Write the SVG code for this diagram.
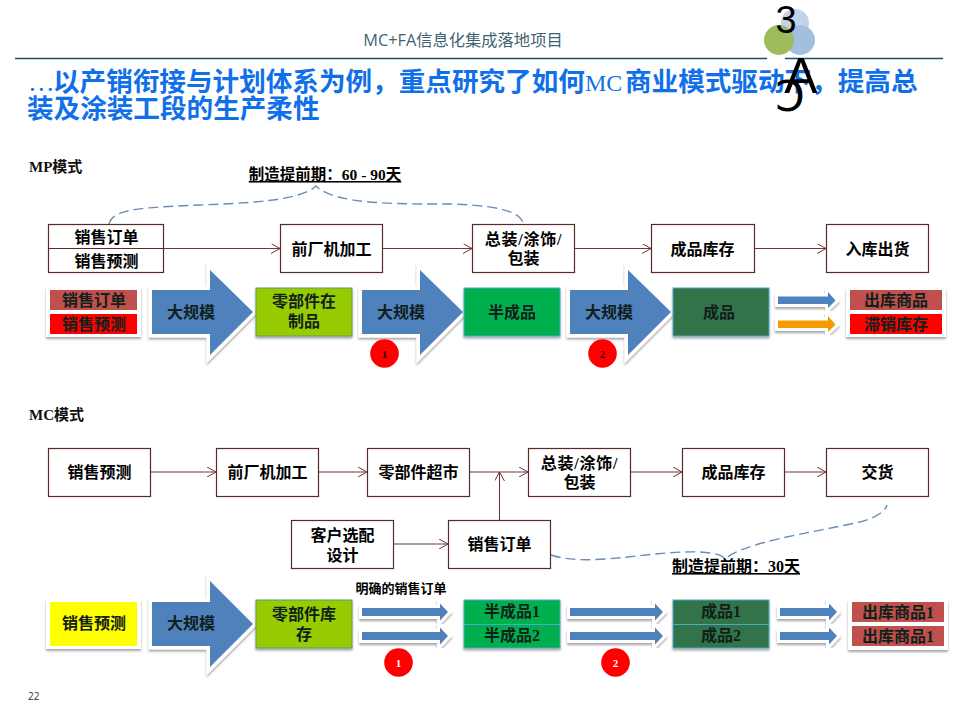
<svg xmlns="http://www.w3.org/2000/svg" width="960" height="720" viewBox="0 0 960 720">
<style>
text{font-family:"Liberation Serif","Noto Sans CJK SC",serif;}
.t{font-size:16px;text-anchor:middle;fill:#000;font-weight:700;}
.m{font-size:16px;text-anchor:middle;fill:#10201a;font-weight:700;}
.box{fill:#fff;stroke:#5a2a2a;stroke-width:1.2;}
.conn{stroke:#6b3a3a;stroke-width:1.1;fill:none;marker-end:url(#a);}
.dash{stroke:#6a8db5;stroke-width:1.4;fill:none;stroke-dasharray:10 5;}
.blue{fill:#4f81bd;stroke:#fff;stroke-width:7;filter:url(#sh);paint-order:stroke;}
.or{fill:#f79a00;stroke:#fff;stroke-width:7;filter:url(#sh);paint-order:stroke;}
.sm{stroke-width:6;}
.panel{fill:#fff;filter:url(#sh);}
.u{font-weight:700;text-anchor:middle;text-decoration:underline;fill:#000;}
.n{font-size:11px;font-weight:700;text-anchor:middle;}
.ti{font-family:"Noto Sans CJK SC",sans-serif;font-size:26.6px;font-weight:700;fill:#1070ea;}
.tl{font-family:"Liberation Serif",serif;font-weight:400;}
</style>
<defs>
<marker id="a" markerWidth="10" markerHeight="10" refX="9" refY="5" orient="auto" markerUnits="userSpaceOnUse"><path d="M0 0L9 5L0 10" fill="none" stroke="#6b3a3a" stroke-width="1"/></marker>
<filter id="sh" x="-10%" y="-10%" width="120%" height="125%"><feDropShadow dx="0" dy="2" stdDeviation="1.2" flood-color="#000" flood-opacity="0.35"/></filter>
</defs>
<rect width="960" height="720" fill="#fff"/>

<g id="logo">
<circle cx="795" cy="23" r="14" fill="#b8cce4" opacity="0.85"/>
<circle cx="800" cy="40" r="15" fill="#a3bfdf"/>
<circle cx="779" cy="40" r="15" fill="#9fbb5d"/>
<text x="786" y="33" text-anchor="middle" style="font-family:'Liberation Sans',sans-serif;font-size:38px;fill:#000">3</text>
</g>

<g id="header">
<text x="463" y="46" text-anchor="middle" style="font-family:'Open Sans','Noto Sans CJK SC',sans-serif;font-size:16.300px;fill:#3f6372">MC+FA信息化集成落地项目</text>
<path d="M15 58.500H767M785 58.500H943" stroke="#1f4e5f" stroke-width="1.300" fill="none"/>
<text class="ti" y="91"><tspan x="28" class="tl">…</tspan><tspan x="53">以产销衔接与计划体系为例，重点研究了如何</tspan><tspan x="585" class="tl" style="font-size:24px">MC</tspan><tspan x="625">商业模式驱动下，提高总</tspan></text>
<text class="ti" x="27" y="118">装及涂装工段的生产柔性</text>
</g>

<g id="logo-marks">
<text x="801" y="93" text-anchor="middle" style="font-family:'Liberation Sans',sans-serif;font-size:50px;fill:#000">A</text>
<text x="790" y="111" text-anchor="middle" style="font-family:'DejaVu Sans',sans-serif;font-size:42px;fill:#000">Ɔ</text>
</g>

<text x="29" y="172" style="font-size:15px;font-weight:700;fill:#111">MP模式</text>
<text x="29" y="420" style="font-size:15px;font-weight:700;fill:#111">MC模式</text>
<text x="325" y="180" class="u" style="font-size:15.500px">制造提前期：60 - 90天</text>
<text x="736" y="572" class="u" style="font-size:16px">制造提前期：30天</text>

<g id="connectors">
<path class="conn" d="M163 248.500H280"/>
<path class="conn" d="M382 248.500H472"/>
<path class="conn" d="M575 248.500H651"/>
<path class="conn" d="M755 248.500H826"/>
<path class="conn" d="M150 472H216"/>
<path class="conn" d="M318 472H367"/>
<path class="conn" d="M469 472H528"/>
<path class="conn" d="M499.500 520V472"/>
<path class="conn" d="M393 544H448"/>
<path class="conn" d="M630 472H682"/>
<path class="conn" d="M784 472H826"/>
<path class="dash" d="M109 224C112 212 130 209 160 207C220 203 295 205 316 186C335 205 400 204 450 204C490 205 520 210 523 223"/>
<path class="dash" d="M551 555C590 568 650 550 700 552C715 553 722 555 725 559C745 542 810 533 860 522C875 518 885 512 887 505"/>
</g>

<g id="mp-top" transform="translate(0.500 0.500)">
<g id="n-order-forecast"><rect class="box" x="48" y="224" width="115" height="48"/><path d="M48 248H163" stroke="#5a2a2a" stroke-width="1.200"/><text class="t" x="106" y="242">销售订单</text><text class="t" x="106" y="266">销售预测</text></g>
<g id="n-front"><rect class="box" x="280" y="224" width="102" height="48"/><text class="t" x="331" y="254">前厂机加工</text></g>
<g id="n-assy"><rect class="box" x="472" y="224" width="102" height="48"/><text class="t" x="523" y="244" style="letter-spacing:0.800px">总装/涂饰/</text><text class="t" x="523" y="263">包装</text></g>
<g id="n-stock"><rect class="box" x="651" y="224" width="103" height="48"/><text class="t" x="702" y="254">成品库存</text></g>
<g id="n-ship"><rect class="box" x="826" y="224" width="102" height="48"/><text class="t" x="877" y="254">入库出货</text></g>
</g>

<g id="mp-flow">
<g id="f-demand"><rect class="panel" x="46" y="287" width="95" height="50"/><rect x="50" y="290" width="87" height="20" fill="#c0504d"/><rect x="50" y="314" width="87" height="20" fill="#ff0000"/><text class="m" x="94" y="306">销售订单</text><text class="m" x="94" y="330">销售预测</text></g>
<g id="f-a1"><path class="blue" d="M152 290H210V270L253 312L210 355V334H152Z"/><text class="m" x="191" y="318">大规模</text></g>
<g id="f-parts"><rect x="256" y="288" width="96" height="48" fill="#99cc00" stroke="#5b9a6a" filter="url(#sh)"/><text class="m" x="304" y="307">零部件在</text><text class="m" x="304" y="327">制品</text></g>
<g id="f-a2"><path class="blue" d="M362 290H420V270L463 312L420 355V334H362Z"/><text class="m" x="401" y="318">大规模</text></g>
<g id="f-semi"><rect x="464" y="288" width="96" height="48" fill="#00b050" stroke="#4bacc6" filter="url(#sh)"/><text class="m" x="512" y="318">半成品</text></g>
<g id="f-a3"><path class="blue" d="M570 290H628V270L671 312L628 355V334H570Z"/><text class="m" x="609" y="318">大规模</text></g>
<g id="f-fin"><rect x="673" y="288" width="96" height="48" fill="#33734a" stroke="#4bacc6" filter="url(#sh)"/><text class="m" x="719" y="318">成品</text></g>
<g id="f-split"><path class="blue sm" d="M778 296.500H828V292L835.500 300.500L828 308V304H778Z"/><path class="or sm" d="M778 320.500H828V316L835.500 324.500L828 332V328H778Z"/></g>
<g id="f-out"><rect class="panel" x="846" y="288" width="100" height="49"/><rect x="850" y="290" width="92" height="20" fill="#c0504d"/><rect x="850" y="314" width="92" height="20" fill="#ff0000"/><text class="m" x="896" y="306">出库商品</text><text class="m" x="896" y="330">滞销库存</text></g>
<g id="c1"><circle cx="384.500" cy="353.500" r="14.300" fill="#ff0000"/><text class="n" x="384.500" y="357.500" style="fill:#400">1</text></g>
<g id="c2"><circle cx="602.500" cy="353.500" r="14.300" fill="#ff0000"/><text class="n" x="602.500" y="357.500" style="fill:#400">2</text></g>
</g>

<g id="mc-top" transform="translate(0.500 0.500)">
<g id="m-forecast"><rect class="box" x="48" y="448" width="102" height="48"/><text class="t" x="99" y="477">销售预测</text></g>
<g id="m-front"><rect class="box" x="216" y="448" width="102" height="48"/><text class="t" x="267" y="477">前厂机加工</text></g>
<g id="m-super"><rect class="box" x="367" y="448" width="102" height="48"/><text class="t" x="418" y="477">零部件超市</text></g>
<g id="m-assy"><rect class="box" x="528" y="448" width="102" height="48"/><text class="t" x="579" y="468" style="letter-spacing:0.800px">总装/涂饰/</text><text class="t" x="579" y="487">包装</text></g>
<g id="m-stock"><rect class="box" x="682" y="448" width="102" height="48"/><text class="t" x="733" y="477">成品库存</text></g>
<g id="m-deliver"><rect class="box" x="826" y="448" width="102" height="48"/><text class="t" x="877" y="477">交货</text></g>
<g id="m-custom"><rect class="box" x="291" y="520" width="102" height="48"/><text class="t" x="342" y="540">客户选配</text><text class="t" x="342" y="560">设计</text></g>
<g id="m-order"><rect class="box" x="448" y="520" width="102" height="48"/><text class="t" x="499" y="549">销售订单</text></g>
</g>

<g id="mc-flow">
<g id="g-demand"><rect class="panel" x="46" y="599" width="95" height="50"/><rect x="50" y="602" width="87" height="44" fill="#ffff00"/><text class="m" x="94" y="629">销售预测</text></g>
<g id="g-a1"><path class="blue" d="M152 602H210V581L253 624L210 667V646H152Z"/><text class="m" x="191" y="629">大规模</text></g>
<g id="g-parts"><rect x="256" y="600" width="96" height="48" fill="#99cc00" stroke="#5b9a6a" filter="url(#sh)"/><text class="m" x="304" y="620">零部件库</text><text class="m" x="304" y="640">存</text></g>
<g id="g-a2"><path class="blue sm" d="M362 608H440V603.500L448 612L440 620.500V616H362Z"/><path class="blue sm" d="M362 632H440V627.500L448 636L440 644.500V640H362Z"/></g>
<text x="401" y="593" text-anchor="middle" style="font-size:13px;font-weight:700;fill:#000">明确的销售订单</text>
<g id="g-semi"><rect x="464" y="600" width="96" height="48" fill="#00b050" stroke="#4bacc6" filter="url(#sh)"/><path d="M464 624.500H560" stroke="#4bacc6"/><text class="m" x="512" y="617">半成品1</text><text class="m" x="512" y="641">半成品2</text></g>
<g id="g-a3"><path class="blue sm" d="M570 608H655V603.500L663 612L655 620.500V616H570Z"/><path class="blue sm" d="M570 632H655V627.500L663 636L655 644.500V640H570Z"/></g>
<g id="g-fin"><rect x="673" y="600" width="96" height="48" fill="#33734a" stroke="#4bacc6" filter="url(#sh)"/><path d="M673 624.500H769" stroke="#4bacc6"/><text class="m" x="721" y="617">成品1</text><text class="m" x="721" y="641">成品2</text></g>
<g id="g-a4"><path class="blue sm" d="M780 608H829V603.500L837 612L829 620.500V616H780Z"/><path class="blue sm" d="M780 632H829V627.500L837 636L829 644.500V640H780Z"/></g>
<g id="g-out"><rect class="panel" x="848" y="600" width="100" height="50"/><rect x="852" y="602" width="92" height="20" fill="#c0504d"/><rect x="852" y="626" width="92" height="20" fill="#c0504d"/><text class="m" x="898" y="618">出库商品1</text><text class="m" x="898" y="642">出库商品1</text></g>
<g id="c3"><circle cx="398.500" cy="662.500" r="14.300" fill="#ff0000"/><text class="n" x="398.500" y="666.500" style="fill:#fff">1</text></g>
<g id="c4"><circle cx="615.500" cy="662.500" r="14.300" fill="#ff0000"/><text class="n" x="615.500" y="666.500" style="fill:#fff">2</text></g>
</g>

<text x="28" y="700" style="font-family:'Open Sans',sans-serif;font-size:10px;fill:#333">22</text>
</svg>
